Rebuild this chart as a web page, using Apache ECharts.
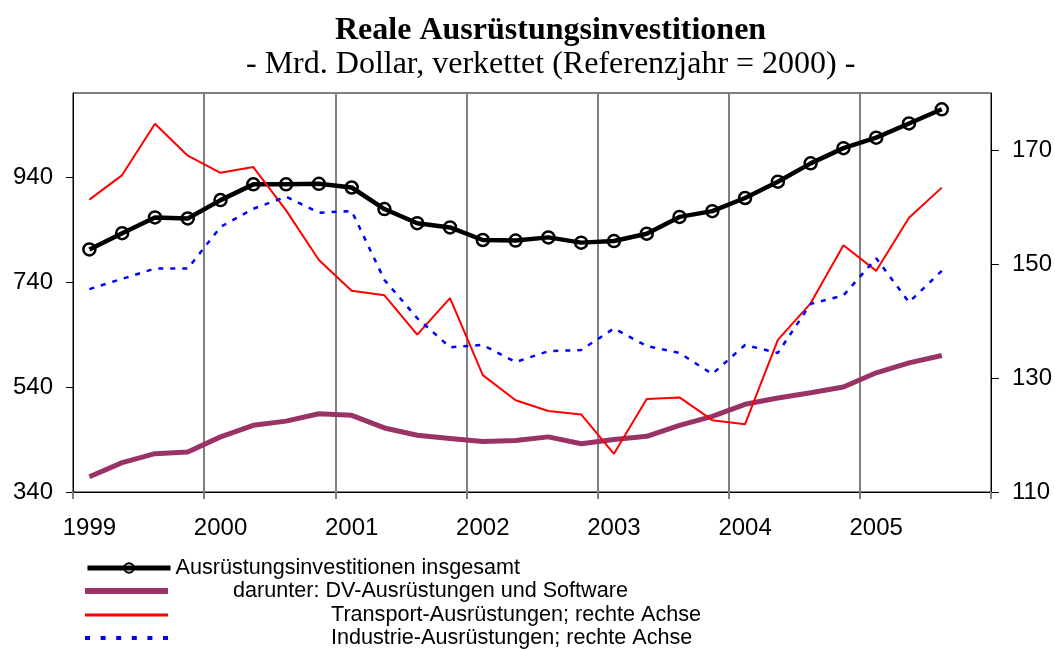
<!DOCTYPE html>
<html><head><meta charset="utf-8">
<script src="https://cdn.jsdelivr.net/npm/echarts@6/dist/echarts.min.js"></script>
<style>html,body{margin:0;padding:0;background:#fff}#c{width:1055px;height:649px}</style>
</head><body><div id="c"></div>
<script>
const quarters = ['1999 Q1','1999 Q2','1999 Q3','1999 Q4','2000 Q1','2000 Q2','2000 Q3','2000 Q4',
  '2001 Q1','2001 Q2','2001 Q3','2001 Q4','2002 Q1','2002 Q2','2002 Q3','2002 Q4',
  '2003 Q1','2003 Q2','2003 Q3','2003 Q4','2004 Q1','2004 Q2','2004 Q3','2004 Q4',
  '2005 Q1','2005 Q2','2005 Q3','2005 Q4'];
const total = [802, 833, 863, 861, 896, 926, 926, 927, 920, 879, 852, 844, 820, 819, 825, 815, 818, 832, 864, 875, 900, 931, 966, 995, 1015, 1042, 1069];
const dv = [369, 396, 413, 416, 445, 467, 475, 489, 486, 462, 448, 442, 436, 438, 445, 432, 440, 446, 467, 484, 507, 519, 529, 540, 567, 586, 600];
const transport = [161.3, 165.6, 174.6, 169.0, 166.0, 167.0, 159.4, 150.7, 145.3, 144.5, 137.6, 144.0, 130.5, 126.1, 124.2, 123.6, 116.7, 126.3, 126.6, 122.6, 121.9, 136.7, 143.1, 153.3, 148.8, 158.1, 163.4];
const industrie = [145.6, 147.4, 149.2, 149.2, 156.5, 159.7, 161.8, 159.0, 159.3, 147.2, 140.5, 135.4, 135.8, 132.8, 134.7, 134.9, 138.7, 135.6, 134.4, 130.7, 135.8, 134.4, 143.0, 144.5, 151.0, 143.3, 148.8];
const leftTicks = [340, 540, 740, 940];
const rightTicks = [110, 130, 150, 170];
const names = ['Ausrüstungsinvestitionen insgesamt', 'darunter: DV-Ausrüstungen und Software',
  'Transport-Ausrüstungen; rechte Achse', 'Industrie-Ausrüstungen; rechte Achse'];
const titleText = 'Reale Ausrüstungsinvestitionen';
const subtitleText = '- Mrd. Dollar, verkettet (Referenzjahr = 2000) -';

const sans = 'Liberation Sans, Arial, sans-serif';
const serif = 'Liberation Serif, Times New Roman, serif';
const chart = echarts.init(document.getElementById('c'));

const dotsIcon = 'path://M0,0h5v4h-5z M15.6,0h5v4h-5z M31.2,0h5v4h-5z M46.8,0h5v4h-5z M62.4,0h5v4h-5z M78,0h5v4h-5z';

function legendFor(i, top, pad, extra) {
  return Object.assign({
    data: [names[i]], left: 85, top: top, padding: 0, itemWidth: 83, itemHeight: 12,
    selectedMode: false,
    textStyle: { fontFamily: sans, fontSize: 21.6, color: '#000', padding: [0, 0, 0, pad] }
  }, extra || {});
}

chart.setOption({
  animation: false,
  backgroundColor: '#fff',
  title: [
    { text: titleText, left: 335, top: 15, padding: 0,
      textStyle: { fontFamily: serif, fontWeight: 'bold', fontSize: 32, color: '#000' } },
    { text: subtitleText, left: 246, top: 49, padding: 0,
      textStyle: { fontFamily: serif, fontWeight: 'normal', fontSize: 32, color: '#000' } }
  ],
  legend: [
    legendFor(0, 557, 0, { lineStyle: { width: 5 } }),
    legendFor(1, 580, 60, { icon: 'rect', itemHeight: 6 }),
    legendFor(2, 604, 158, { icon: 'rect', itemHeight: 3 }),
    legendFor(3, 627, 158, { icon: dotsIcon, itemHeight: 4 })
  ],
  grid: { left: 73, right: 64, top: 93, bottom: 157, show: true, borderColor: '#000', borderWidth: 1, backgroundColor: 'transparent' },
  xAxis: {
    type: 'category', data: quarters, boundaryGap: true,
    axisLine: { lineStyle: { color: '#000', width: 1 } },
    axisTick: { show: true, interval: 3, length: 7, lineStyle: { color: '#808080', width: 2 } },
    axisLabel: { interval: 3, margin: 24, fontFamily: sans, fontSize: 24, color: '#000',
      formatter: v => v.slice(0, 4) },
    splitLine: { show: true, interval: 3, lineStyle: { color: '#808080', width: 2 } }
  },
  yAxis: [
    { type: 'value', min: 340, max: 1100, interval: 200, position: 'left',
      axisLine: { show: true, lineStyle: { color: '#000', width: 1 } },
      axisTick: { show: true, length: 7, customValues: leftTicks, lineStyle: { color: '#000' } },
      axisLabel: { margin: 20, fontFamily: sans, fontSize: 24, color: '#000', customValues: leftTicks },
      splitLine: { show: false } },
    { type: 'value', min: 110, max: 180, interval: 20, position: 'right',
      axisLine: { show: true, lineStyle: { color: '#000', width: 1 } },
      axisTick: { show: true, length: 8, customValues: rightTicks, lineStyle: { color: '#000' } },
      axisLabel: { margin: 21, fontFamily: sans, fontSize: 24, color: '#000', customValues: rightTicks },
      splitLine: { show: false } }
  ],
  series: [
    { name: names[0], type: 'line', yAxisIndex: 0, data: total, color: '#000',
      symbol: 'circle', symbolSize: 12,
      itemStyle: { color: 'rgba(255,255,255,0)', borderColor: '#000', borderWidth: 2.5 },
      lineStyle: { color: '#000', width: 4.5 } },
    { name: names[1], type: 'line', yAxisIndex: 0, data: dv, color: '#993366', symbol: 'none',
      lineStyle: { color: '#993366', width: 5 } },
    { name: names[2], type: 'line', yAxisIndex: 1, data: transport, color: '#ff0000', symbol: 'none',
      lineStyle: { color: '#ff0000', width: 2 } },
    { name: names[3], type: 'line', yAxisIndex: 1, data: industrie, color: '#0000ff', symbol: 'none',
      lineStyle: { color: '#0000ff', width: 2.5, type: [5, 7] } }
  ]
});
</script></body></html>
